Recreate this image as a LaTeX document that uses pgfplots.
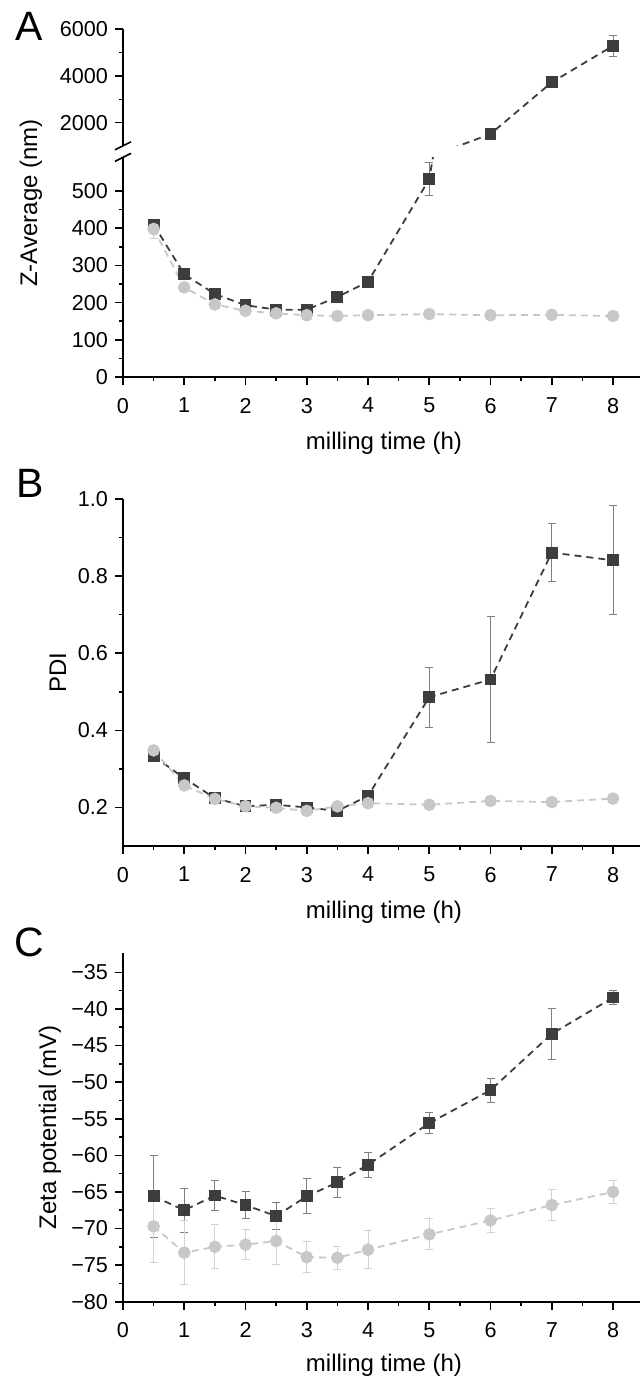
\documentclass[border=0pt]{standalone}
\usepackage{fontspec}
\setmainfont{Liberation Sans}
\usepackage{pgfplots}
\usepackage{pgfplotstable}
\pgfplotsset{compat=1.18}
\definecolor{dk}{HTML}{3D3D3D}
\definecolor{lt}{HTML}{C8C8C8}
\definecolor{ebd}{HTML}{7F7F7F}
\definecolor{ebl}{HTML}{D2D2D2}

\pgfplotstableread{
x y e
0.5 410 8
1 276 6
1.5 223 5
2 193 4
2.5 181 4
3 181 4
3.5 215 4
4 256 5
5 532 44
6 1514 60
7 3730 60
8 5290 440
}\Ablack
\pgfplotstableread{
x y e
0.5 398 26
1 241 5
1.5 195 4
2 178 3
2.5 171 3
3 166 3
3.5 164 2
4 166 2
5 169 2
6 166 2
7 167 2
8 164 2
}\Agrey
\pgfplotstableread{
x y e
0.5 0.333 0.005
1 0.276 0.005
1.5 0.224 0.005
2 0.203 0.004
2.5 0.207 0.004
3 0.200 0.004
3.5 0.191 0.004
4 0.230 0.005
5 0.486 0.078
6 0.532 0.164
7 0.861 0.076
8 0.841 0.141
}\Bblack
\pgfplotstableread{
x y e
0.5 0.348 0.005
1 0.257 0.005
1.5 0.222 0.004
2 0.203 0.004
2.5 0.199 0.004
3 0.191 0.004
3.5 0.203 0.004
4 0.211 0.004
5 0.207 0.004
6 0.217 0.004
7 0.214 0.004
8 0.223 0.004
}\Bgrey
\pgfplotstableread{
x y e
0.5 -65.6 5.6
1 -67.5 3.0
1.5 -65.5 2.0
2 -66.8 1.8
2.5 -68.3 1.8
3 -65.6 2.4
3.5 -63.7 2.0
4 -61.3 1.7
5 -55.6 1.4
6 -51.1 1.65
7 -43.4 3.45
8 -38.45 0.95
}\Cblack
\pgfplotstableread{
x y e
0.5 -69.7 4.9
1 -73.3 4.4
1.5 -72.5 3.0
2 -72.2 2.0
2.5 -71.7 3.2
3 -73.9 2.1
3.5 -74.0 1.6
4 -72.9 2.6
5 -70.8 2.1
6 -68.9 1.7
7 -66.8 2.1
8 -65.0 1.6
}\Cgrey

\pgfplotsset{
  panel/.style={
    scale only axis, width=258.5pt, xmin=0, xmax=8.44,
    axis lines*=left,
    axis line style={line width=0.9pt, black},
    tick align=outside, major tick length=4pt, minor tick length=2pt,
    every tick/.append style={black, line width=0.8pt},
    xtick={0,...,8}, minor x tick num=1, minor y tick num=1,
    tick label style={font=\fontsize{10.8}{12}\selectfont},
    xticklabel style={yshift=-3pt},
    /pgf/number format/assume math mode=true,
    /pgf/number format/set thousands separator={},
  },
  dark/.style={color=dk, line width=0.9pt, dash pattern=on 3.5pt off 2.5pt,
    mark=square*, mark size=2.5pt, mark options={solid, fill=dk, draw=dk},
    error bars/.cd, y dir=both, y explicit,
    error bar style={solid, line width=0.5pt, color=ebd},
    error mark options={solid, rotate=90, color=ebd, mark size=2pt, line width=0.5pt}},
  light/.style={color=lt, line width=0.9pt, dash pattern=on 3.5pt off 2.5pt,
    mark=*, mark size=2.7pt, mark options={solid, fill=lt, draw=lt},
    error bars/.cd, y dir=both, y explicit,
    error bar style={solid, line width=0.5pt, color=ebl},
    error mark options={solid, rotate=90, color=ebl, mark size=2pt, line width=0.5pt}},
}

\begin{document}
\begin{tikzpicture}
\useasboundingbox (0,0) rectangle (320pt,688.5pt);
% ---------- Panel A (lower part)
\begin{axis}[panel, at={(61.5pt,500pt)}, anchor=south west, height=109.75pt,
  ymin=0, ymax=590, ytick={0,100,...,500}]
\addplot[dark] table[x=x, y=y, y error=e]{\Ablack};
\addplot[light] table[x=x, y=y, y error=e]{\Agrey};
\end{axis}
% ---------- Panel A (upper part)
\begin{axis}[panel, at={(61.5pt,615.5pt)}, anchor=south west, height=58.35pt,
  ymin=1000, ymax=6000, ytick={2000,4000,6000}, axis x line=none, xtick=\empty]
\addplot[dark] table[x=x, y=y, y error=e]{\Ablack};
\end{axis}
% axis break marks
\draw[line width=0.8pt] (57.5pt,613.6pt) -- (65.5pt,617.6pt);
\draw[line width=0.8pt] (57.5pt,607.8pt) -- (65.5pt,611.8pt);
% ---------- Panel B
\begin{axis}[panel, at={(61.5pt,265.5pt)}, anchor=south west, height=173.5pt,
  ymin=0.1, ymax=1.0, ytick={0.2,0.4,0.6,0.8,1.0},
  yticklabels={0.2,0.4,0.6,0.8,1.0}]
\addplot[dark] table[x=x, y=y, y error=e]{\Bblack};
\addplot[light] table[x=x, y=y, y error=e]{\Bgrey};
\end{axis}
% ---------- Panel C
\begin{axis}[panel, at={(61.5pt,37.65pt)}, anchor=south west, height=174.2pt,
  ymin=-80, ymax=-32.4, ytick={-80,-75,...,-35},
  yticklabels={−80,−75,−70,−65,−60,−55,−50,−45,−40,−35}]
\addplot[dark] table[x=x, y=y, y error=e]{\Cblack};
\addplot[light] table[x=x, y=y, y error=e]{\Cgrey};
\end{axis}
% ---------- panel letters and labels
\node[font=\fontsize{20.5}{24}\selectfont] at (14.5pt,675.25pt) {A};
\node[font=\fontsize{20.5}{24}\selectfont] at (15.25pt,447pt) {B};
\node[font=\fontsize{20.5}{24}\selectfont] at (14.75pt,217.5pt) {C};
\node[font=\fontsize{12}{14}\selectfont, rotate=90, anchor=base] at (18.5pt,587pt) {Z-Average (nm)};
\node[font=\fontsize{12}{14}\selectfont, rotate=90, anchor=base] at (33pt,352.25pt) {PDI};
\node[font=\fontsize{12}{14}\selectfont, rotate=90, anchor=base] at (28pt,124.75pt) {Zeta potential (mV)};
\node[font=\fontsize{12}{14}\selectfont, anchor=base] at (192pt,463.5pt) {milling time (h)};
\node[font=\fontsize{12}{14}\selectfont, anchor=base] at (192pt,229pt) {milling time (h)};
\node[font=\fontsize{12}{14}\selectfont, anchor=base] at (192pt,2.6pt) {milling time (h)};
\end{tikzpicture}
\end{document}
